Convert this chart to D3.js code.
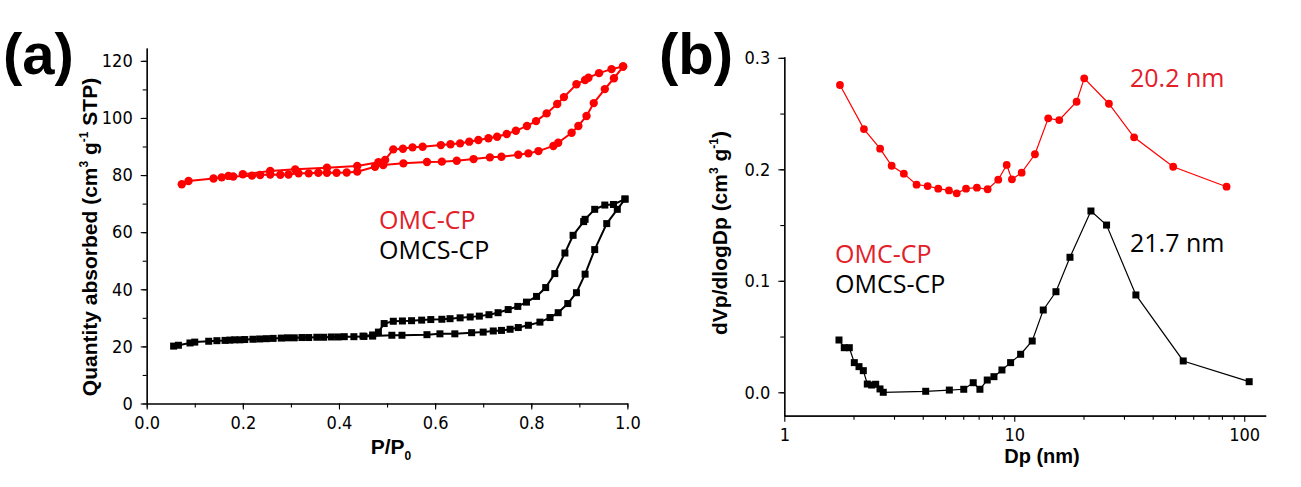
<!DOCTYPE html>
<html><head><meta charset="utf-8">
<script src="https://cdn.jsdelivr.net/npm/d3@7"></script>
<style>
html,body{margin:0;padding:0;background:#fff;}
svg{display:block;}
.tick text{font-family:"Liberation Sans Narrow","DejaVu Sans Condensed",Arial,sans-serif;font-size:18px;fill:#000;}
</style></head>
<body>
<svg id="c" width="1301" height="487"></svg>
<script>
// ---------- Panel (a): N2 isotherms (P/P0, quantity adsorbed) ----------
const omcAds = [[0.073,76.8],[0.087,77.9],[0.139,78.8],[0.156,79.2],[0.170,79.7],[0.180,79.5],[0.219,79.8],[0.236,80.0],[0.257,80.2],[0.278,80.1],[0.295,80.2],[0.316,80.6],[0.337,80.6],[0.357,80.8],[0.375,80.8],[0.395,80.8],[0.416,80.9],[0.438,81.2],[0.475,82.9],[0.492,83.5],[0.534,84.1],[0.583,84.6],[0.614,84.7],[0.645,85.0],[0.680,85.6],[0.714,86.2],[0.738,86.4],[0.773,87.1],[0.794,87.6],[0.815,88.4],[0.846,90.2],[0.856,91.3],[0.884,94.8],[0.898,97.2],[0.915,100.7],[0.930,105.2],[0.953,110.1],[0.972,113.9],[0.991,118.0]];
const omcDes = [[0.991,118.0],[0.967,117.1],[0.941,115.7],[0.919,114.1],[0.912,113.3],[0.894,111.8],[0.868,107.3],[0.854,104.9],[0.832,101.6],[0.810,98.9],[0.791,97.2],[0.768,95.5],[0.749,94.4],[0.729,93.4],[0.711,92.9],[0.690,92.3],[0.671,91.7],[0.652,91.1],[0.632,90.8],[0.612,90.5],[0.574,89.9],[0.553,89.7],[0.533,89.2],[0.513,89.0],[0.496,85.3],[0.482,84.5],[0.438,83.2],[0.375,82.6],[0.309,82.0],[0.257,81.4],[0.200,80.3]];
const omcsAds = [[0.056,20.1],[0.066,20.4],[0.090,21.2],[0.100,21.5],[0.129,21.8],[0.146,22.0],[0.163,22.1],[0.173,22.2],[0.183,22.3],[0.194,22.3],[0.204,22.4],[0.221,22.5],[0.235,22.6],[0.249,22.7],[0.263,22.8],[0.280,22.9],[0.293,23.0],[0.307,23.0],[0.323,23.1],[0.337,23.1],[0.354,23.2],[0.368,23.2],[0.384,23.3],[0.398,23.3],[0.411,23.4],[0.431,23.4],[0.452,23.5],[0.470,23.6],[0.510,23.9],[0.531,23.9],[0.583,24.1],[0.610,24.4],[0.641,24.4],[0.676,24.8],[0.700,25.0],[0.721,25.4],[0.738,25.6],[0.756,26.0],[0.773,26.6],[0.794,27.4],[0.818,28.5],[0.839,30.1],[0.856,31.8],[0.876,35.0],[0.894,38.8],[0.912,45.3],[0.932,53.9],[0.957,63.0],[0.979,68.0],[0.995,71.6]];
const omcsDes = [[0.995,71.6],[0.971,69.7],[0.953,69.5],[0.932,68.0],[0.912,64.5],[0.909,63.7],[0.887,58.9],[0.870,52.7],[0.849,45.5],[0.830,40.6],[0.811,37.5],[0.790,35.5],[0.772,34.0],[0.752,32.9],[0.731,31.8],[0.712,31.1],[0.692,30.6],[0.673,30.3],[0.652,30.0],[0.631,29.7],[0.614,29.5],[0.591,29.4],[0.572,29.2],[0.551,29.0],[0.532,28.9],[0.513,28.8],[0.494,28.0],[0.482,25.0],[0.470,24.0],[0.450,23.6]];
const xTicksA = [0,0.2,0.4,0.6,0.8,1.0];
const yTicksA = [0,20,40,60,80,100,120];

// ---------- Panel (b): pore size distribution (Dp nm, dVp/dlogDp) ----------
const omcPsd = [[1.746,0.2756],[2.22,0.2361],[2.61,0.2185],[2.93,0.2032],[3.31,0.1961],[3.76,0.1862],[4.20,0.1850],[4.67,0.1826],[5.20,0.1811],[5.62,0.1785],[6.17,0.1826],[6.88,0.1835],[7.66,0.1821],[8.52,0.1907],[9.27,0.2039],[9.77,0.1910],[10.77,0.1970],[12.30,0.2135],[14.05,0.2457],[15.69,0.2442],[18.67,0.2606],[20.15,0.2816],[25.8,0.2588],[33.2,0.2287],[49.1,0.2023],[83.8,0.1844]];
const omcsPsd = [[1.729,0.0469],[1.823,0.0400],[1.917,0.0400],[2.016,0.0266],[2.113,0.0230],[2.206,0.0194],[2.296,0.0074],[2.399,0.0065],[2.497,0.0072],[2.607,0.0030],[2.694,0.0],[4.12,0.0009],[5.22,0.0020],[6.03,0.0027],[6.63,0.0086],[7.09,0.0027],[7.63,0.011],[8.16,0.014],[8.84,0.020],[9.64,0.0266],[10.66,0.0341],[11.97,0.046],[13.37,0.0738],[15.18,0.0902],[17.47,0.1211],[21.55,0.1626],[25.2,0.150],[33.8,0.0873],[54.3,0.0281],[105.1,0.0095]];
const xTicksB = [1,10,100];
const yTicksB = [0.0,0.1,0.2,0.3];
const seriesNames = ["OMC-CP","OMCS-CP"];
const peakLabels = ["20.2 nm","21.7 nm"];

const RED = "#ff0000", TXTRED = "#e3202a";
const svg = d3.select("#c");

// scales
const xA = d3.scaleLinear([0,1],[146.7,627.4]);
const yA = d3.scaleLinear([0,124.5],[403.5,48]);
const xB = d3.scaleLog([1,124],[784.3,1265.7]);
const yB = d3.scaleLinear([-0.021,0.301],[415.7,56.7]);

function styleAxis(g){
  g.selectAll("path.domain").attr("stroke","#000").attr("stroke-width",1.2);
  g.selectAll(".tick line").attr("stroke","#000").attr("stroke-width",1.1);
}

// ----- Panel a axes -----
const minorXA = d3.range(0,1.0001,0.1);
const minorYA = d3.range(0,124,10);
svg.append("g").attr("transform",`translate(0,${yA(0)})`)
  .call(d3.axisBottom(xA).tickValues(minorXA).tickSize(4).tickSizeOuter(0).tickFormat(""))
  .call(styleAxis);
svg.append("g").attr("transform",`translate(0,${yA(0)})`)
  .call(d3.axisBottom(xA).tickValues(xTicksA).tickSize(6).tickSizeOuter(0).tickPadding(7).tickFormat(d3.format(".1f")))
  .call(styleAxis);
svg.append("g").attr("transform",`translate(${xA(0)},0)`)
  .call(d3.axisLeft(yA).tickValues(minorYA).tickSize(4).tickSizeOuter(0).tickFormat(""))
  .call(styleAxis);
svg.append("g").attr("transform",`translate(${xA(0)},0)`)
  .call(d3.axisLeft(yA).tickValues(yTicksA).tickSize(6).tickSizeOuter(0).tickPadding(8).tickFormat(d3.format("d")))
  .call(styleAxis);

// ----- Panel b axes -----
const minorXB = [];
[1,10,100].forEach(b=>{for(let i=2;i<=9;i++){const v=b*i; if(v<=124) minorXB.push(v);}});
const minorYB = d3.range(0,0.301,0.05);
svg.append("g").attr("transform",`translate(0,${yB(-0.021)})`)
  .call(d3.axisBottom(xB).tickValues(minorXB).tickSize(4).tickSizeOuter(0).tickFormat(""))
  .call(styleAxis);
svg.append("g").attr("transform",`translate(0,${yB(-0.021)})`)
  .call(d3.axisBottom(xB).tickValues(xTicksB).tickSize(6).tickSizeOuter(0).tickPadding(7).tickFormat(d3.format("d")))
  .call(styleAxis);
svg.append("g").attr("transform",`translate(${xB(1)},0)`)
  .call(d3.axisLeft(yB).tickValues(minorYB).tickSize(4).tickSizeOuter(0).tickFormat(""))
  .call(styleAxis);
svg.append("g").attr("transform",`translate(${xB(1)},0)`)
  .call(d3.axisLeft(yB).tickValues(yTicksB).tickSize(6).tickSizeOuter(0).tickPadding(8).tickFormat(d3.format(".1f")))
  .call(styleAxis);

// ----- data drawing -----
function drawLine(data,x,y,color,w){
  svg.append("path").datum(data)
    .attr("d",d3.line().x(d=>x(d[0])).y(d=>y(d[1])))
    .attr("fill","none").attr("stroke",color).attr("stroke-width",w);
}
function drawCircles(data,x,y,color,r){
  svg.append("g").selectAll("circle").data(data).join("circle")
    .attr("cx",d=>x(d[0])).attr("cy",d=>y(d[1])).attr("r",r).attr("fill",color);
}
function drawSquares(data,x,y,color,s){
  svg.append("g").selectAll("rect").data(data).join("rect")
    .attr("x",d=>x(d[0])-s/2).attr("y",d=>y(d[1])-s/2).attr("width",s).attr("height",s).attr("fill",color);
}
// panel a
drawLine(omcAds,xA,yA,RED,2); drawLine(omcDes,xA,yA,RED,2);
drawCircles(omcAds,xA,yA,RED,4.2); drawCircles(omcDes,xA,yA,RED,4.2);
drawLine(omcsAds,xA,yA,"#000",2); drawLine(omcsDes,xA,yA,"#000",2);
drawSquares(omcsAds,xA,yA,"#000",7); drawSquares(omcsDes,xA,yA,"#000",7);
// panel b
drawLine(omcPsd,xB,yB,RED,1.2); drawCircles(omcPsd,xB,yB,RED,3.9);
drawLine(omcsPsd,xB,yB,"#000",1.2); drawSquares(omcsPsd,xB,yB,"#000",7);

// ----- texts -----
const bold = "'Liberation Sans',Arial,sans-serif";
const legendFont = "'Open Sans','Noto Sans',sans-serif";
function txt(x,y,s,opts){
  const t = svg.append("text").attr("x",x).attr("y",y).text(s)
    .attr("font-family",opts.ff||legendFont).attr("font-size",opts.fs||24)
    .attr("fill",opts.fill||"#000").attr("font-weight",opts.fw||"normal");
  if(opts.anchor) t.attr("text-anchor",opts.anchor);
  return t;
}
// panel labels
txt(3,74,"(a)",{ff:bold,fs:58,fw:"bold"});
txt(659,74,"(b)",{ff:bold,fs:58,fw:"bold"});
// legends
txt(379,229,seriesNames[0],{fill:TXTRED,fs:25});
txt(379,259,seriesNames[1],{fs:25});
txt(835,263,seriesNames[0],{fill:TXTRED,fs:25});
txt(835,293,seriesNames[1],{fs:25});
txt(1130,87,peakLabels[0],{fill:TXTRED,fs:25});
txt(1130,252,peakLabels[1],{fs:25});

// axis titles
const xt = txt(391,454,"P/P",{ff:bold,fs:21,fw:"bold",anchor:"middle"});
xt.append("tspan").attr("font-size",12).attr("dy",6).text("0");
txt(1042,463,"Dp (nm)",{ff:bold,fs:20,fw:"bold",anchor:"middle"});

const yt = svg.append("text").attr("transform","translate(97,237) rotate(-90)")
  .attr("text-anchor","middle").attr("font-family",bold).attr("font-size",21).attr("font-weight","bold");
yt.append("tspan").text("Quantity absorbed (cm");
yt.append("tspan").attr("font-size",12).attr("dy",-9).text("3");
yt.append("tspan").attr("dy",9).text(" g");
yt.append("tspan").attr("font-size",12).attr("dy",-9).text("-1");
yt.append("tspan").attr("dy",9).text(" STP)");

const yt2 = svg.append("text").attr("transform","translate(727,233) rotate(-90)")
  .attr("text-anchor","middle").attr("font-family",bold).attr("font-size",21).attr("font-weight","bold");
yt2.append("tspan").text("dVp/dlogDp (cm");
yt2.append("tspan").attr("font-size",12).attr("dy",-9).text("3");
yt2.append("tspan").attr("dy",9).text(" g");
yt2.append("tspan").attr("font-size",12).attr("dy",-9).text("-1");
yt2.append("tspan").attr("dy",9).text(")");
</script>
</body></html>
